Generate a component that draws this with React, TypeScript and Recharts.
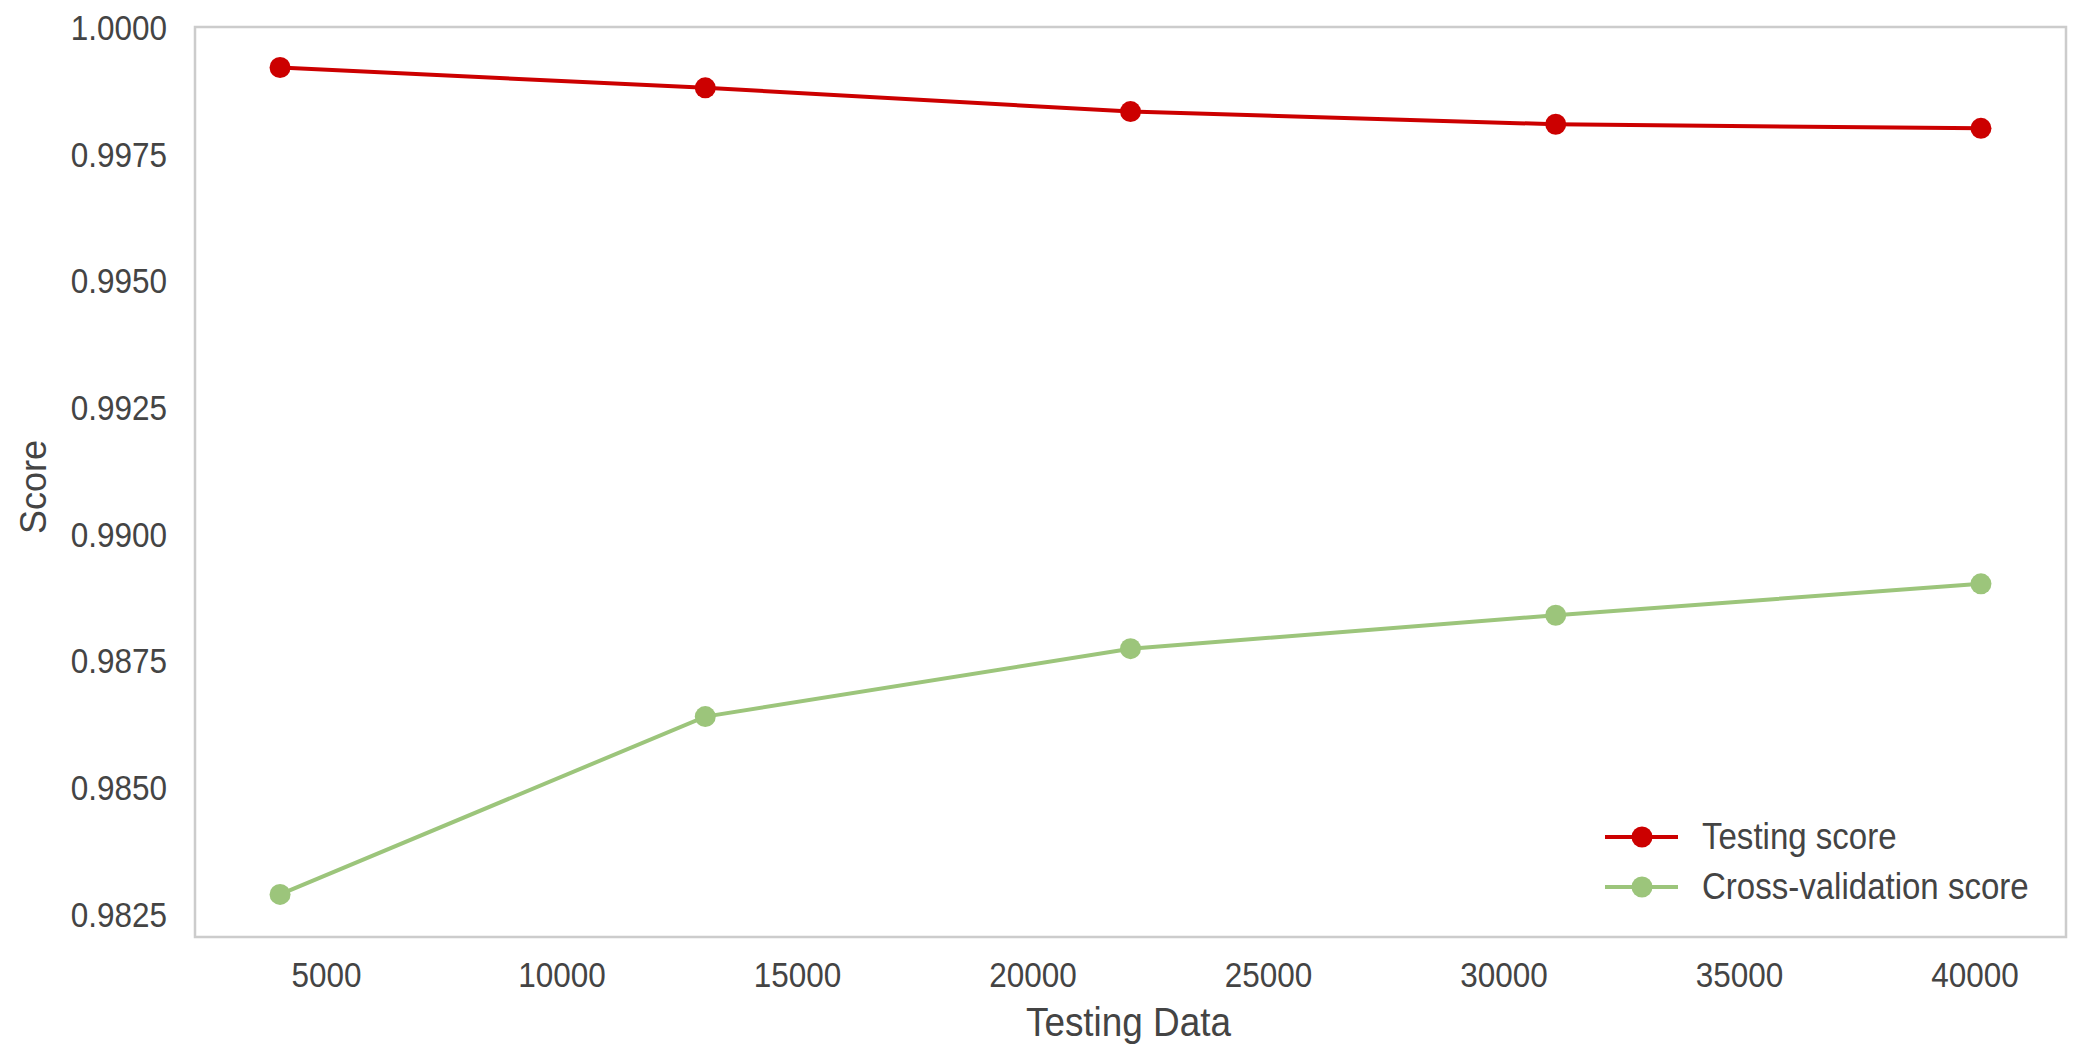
import React from 'react';
import { LineChart, Line, XAxis, YAxis, ReferenceArea, Legend, Label } from 'recharts';

// learning curve: training set sizes and mean scores
const trainSizes = [4013, 13042, 22071, 31099, 40128];
const testingScore = [0.99921, 0.99881, 0.99834, 0.99809, 0.99801];
const crossValScore = [0.98289, 0.9864, 0.98774, 0.9884, 0.98902];

const seriesNames = ['Testing score', 'Cross-validation score'];

const xTicks = [5000, 10000, 15000, 20000, 25000, 30000, 35000, 40000];
const yTicks = [0.9825, 0.985, 0.9875, 0.99, 0.9925, 0.995, 0.9975, 1.0];

const xDomain: [number, number] = [2207, 41934];
const yDomain: [number, number] = [0.98205, 1.00001];

const RED = '#cc0000';
const GREEN = '#9cc57b';
const TEXT = '#444444';
const FONT = '"Liberation Sans", Arial, sans-serif';

const data = trainSizes.map((size, i) => ({
  size,
  testing: testingScore[i],
  cv: crossValScore[i],
}));

const XTick = ({ x, y, payload }: any) => (
  <g transform={`translate(${x},${y})`}>
    <text transform="scale(0.9,1)" textAnchor="middle" dy="0.36em" fill={TEXT} fontSize={35} fontFamily={FONT}>
      {payload.value}
    </text>
  </g>
);

const YTick = ({ x, y, payload }: any) => (
  <g transform={`translate(${x},${y})`}>
    <text transform="scale(0.9,1)" textAnchor="end" dy="0.36em" fill={TEXT} fontSize={35} fontFamily={FONT}>
      {Number(payload.value).toFixed(4)}
    </text>
  </g>
);

const XLabel = ({ viewBox }: any) => {
  const cx = viewBox.x + viewBox.width / 2;
  return (
    <g transform={`translate(${cx - 2},1021)`}>
      <text transform="scale(0.9,1)" textAnchor="middle" dy="0.36em" fill={TEXT} fontSize={41} fontFamily={FONT}>
        Testing Data
      </text>
    </g>
  );
};

const YLabel = ({ viewBox }: any) => {
  const cy = viewBox.y + viewBox.height / 2;
  return (
    <text
      x={33}
      y={cy + 5}
      transform={`rotate(-90, 33, ${cy + 5})`}
      textAnchor="middle"
      dy="0.36em"
      fill={TEXT}
      fontSize={36}
      fontFamily={FONT}
    >
      Score
    </text>
  );
};

const LegendContent = ({ payload }: any) => {
  const items = [...(payload || [])].sort(
    (a: any, b: any) => seriesNames.indexOf(a.value) - seriesNames.indexOf(b.value)
  );
  return (
    <div style={{ fontFamily: FONT }}>
      {items.map((item: any) => (
        <div key={item.value} style={{ display: 'flex', alignItems: 'center', height: 50 }}>
          <svg width={73} height={50} style={{ display: 'block' }}>
            <line x1={0} x2={73} y1={25} y2={25} stroke={item.color} strokeWidth={4} />
            <circle cx={37} cy={25} r={10.5} fill={item.color} />
          </svg>
          <span
            style={{
              marginLeft: 24,
              fontSize: 36.7,
              color: TEXT,
              whiteSpace: 'nowrap',
              display: 'inline-block',
              transform: 'scaleX(0.9)',
              transformOrigin: 'left center',
            }}
          >
            {item.value}
          </span>
        </div>
      ))}
    </div>
  );
};

export default function App() {
  return (
    <div style={{ position: 'absolute', left: 0, top: 0, background: '#fff' }}>
      <LineChart width={2083} height={1059} data={data} margin={{ top: 27, right: 17, bottom: 0, left: 0 }}>
        <XAxis
          type="number"
          dataKey="size"
          domain={xDomain}
          ticks={xTicks}
          allowDataOverflow
          axisLine={false}
          tickLine={false}
          tickSize={0}
          tickMargin={37}
          height={122}
          tick={<XTick />}
        >
          <Label content={<XLabel />} />
        </XAxis>
        <YAxis
          type="number"
          domain={yDomain}
          ticks={yTicks}
          allowDataOverflow
          axisLine={false}
          tickLine={false}
          tickSize={0}
          tickMargin={28}
          width={195}
          tick={<YTick />}
        >
          <Label content={<YLabel />} />
        </YAxis>
        <ReferenceArea
          x1={xDomain[0]}
          x2={xDomain[1]}
          y1={yDomain[0]}
          y2={yDomain[1]}
          fill="none"
          stroke="#cccccc"
          strokeWidth={2.5}
          ifOverflow="extendDomain"
        />
        <Legend
          layout="horizontal"
          verticalAlign="middle"
          align="center"
          content={<LegendContent />}
          wrapperStyle={{ left: 1605, top: 812, width: 470 }}
        />
        <Line
          name={seriesNames[0]}
          dataKey="testing"
          stroke={RED}
          strokeWidth={4}
          dot={{ r: 10.5, fill: RED, stroke: 'none' }}
          activeDot={false}
          isAnimationActive={false}
        />
        <Line
          name={seriesNames[1]}
          dataKey="cv"
          stroke={GREEN}
          strokeWidth={4}
          dot={{ r: 10.5, fill: GREEN, stroke: 'none' }}
          activeDot={false}
          isAnimationActive={false}
        />
      </LineChart>
    </div>
  );
}
